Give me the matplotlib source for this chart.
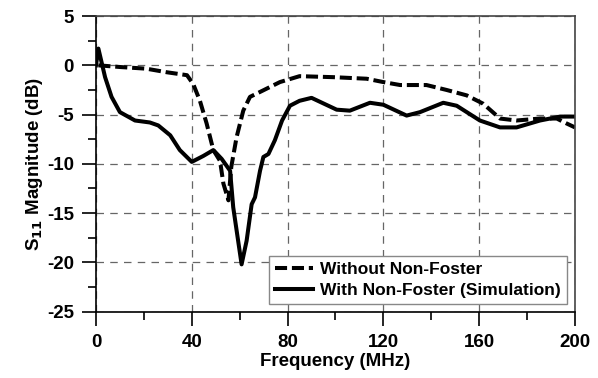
import matplotlib.pyplot as plt
import numpy as np
from matplotlib.ticker import MultipleLocator

plt.rcParams['font.family'] = ['Liberation Sans', 'DejaVu Sans']
plt.rcParams['font.weight'] = 'bold'
plt.rcParams['axes.unicode_minus'] = False

# Without Non-Foster (dashed)
freq_wo = [1, 10, 21, 29.5, 38, 40.6, 43.4, 46.2, 49, 51.8, 53.2, 55.3, 56.5,
           58.7, 61.5, 64.3, 68.5, 76.8, 85, 99, 113, 120, 127, 138, 146.4,
           154.8, 161.7, 168.7, 175.6, 185.4, 192.4, 196.5, 200]
s11_wo = [0, -0.17, -0.34, -0.7, -1.0, -1.9, -3.6, -5.9, -8.6, -9.7, -12.0,
          -13.7, -10.3, -7.3, -4.6, -3.2, -2.7, -1.7, -1.1, -1.2, -1.36, -1.7,
          -2.0, -2.0, -2.5, -3.05, -3.9, -5.4, -5.6, -5.4, -5.4, -5.9, -6.3]

# With Non-Foster (simulation, solid)
freq_w = [0, 1, 3.8, 6.5, 10, 16.3, 22.5, 26, 31, 35, 40, 44.8, 49, 52.5, 56,
          57.3, 60.8, 62.9, 65, 66.4, 68.5, 69.9, 72, 74.7, 77.7, 81, 85, 90,
          100.5, 106, 114.4, 120, 129.7, 135.3, 145, 150.6, 160.3, 168.7,
          175.6, 185.4, 193.8, 200]
s11_w = [0, 1.7, -1.2, -3.2, -4.75, -5.6, -5.8, -6.1, -7.1, -8.6, -9.8, -9.2,
         -8.6, -9.5, -10.7, -14.4, -20.2, -17.8, -14.1, -13.4, -10.7, -9.3,
         -9.0, -7.6, -5.6, -4.1, -3.6, -3.3, -4.5, -4.6, -3.8, -4.0, -5.1,
         -4.75, -3.8, -4.1, -5.6, -6.3, -6.3, -5.6, -5.2, -5.2]

fig = plt.figure(figsize=(5.98, 3.78), dpi=100)
ax = fig.add_axes([0.1605, 0.1755, 0.801, 0.782])

ax.plot(freq_wo, s11_wo, color='black', lw=2.9, ls=(0, (3.0, 1.2)),
        label='Without Non-Foster')
ax.plot(freq_w, s11_w, color='black', lw=2.9, label='With Non-Foster (Simulation)')

ax.set_xlim(0, 200)
ax.set_ylim(-25, 5)
ax.xaxis.set_major_locator(MultipleLocator(40))
ax.xaxis.set_minor_locator(MultipleLocator(20))
ax.yaxis.set_major_locator(MultipleLocator(5))
ax.yaxis.set_minor_locator(MultipleLocator(2.5))
ax.tick_params(which='major', direction='out', length=10, width=1.2,
               labelsize=13.5, pad=6)
ax.tick_params(which='minor', direction='out', length=6, width=1.2)
ax.grid(True, which='major', color='#666666', ls=(0, (6, 5)), lw=0.9)

for s in ax.spines.values():
    s.set_linewidth(1.2)
ax.spines['top'].set_color('#444444')
ax.spines['right'].set_color('#444444')

ax.set_xlabel('Frequency (MHz)', fontsize=13.5, fontweight='bold', labelpad=1.5)
ax.set_ylabel('S$_{\\mathbf{11}}$ Magnitude (dB)', fontsize=13.5,
              fontweight='bold', labelpad=1)

leg = ax.legend(loc='lower right', fontsize=12.5, frameon=True, fancybox=False,
                edgecolor='#888888', framealpha=1, handlelength=2.2,
                handletextpad=0.4, borderaxespad=0.45, borderpad=0.35,
                labelspacing=0.3)
leg.get_frame().set_linewidth(1.0)

fig.savefig('out.png', dpi=100)
